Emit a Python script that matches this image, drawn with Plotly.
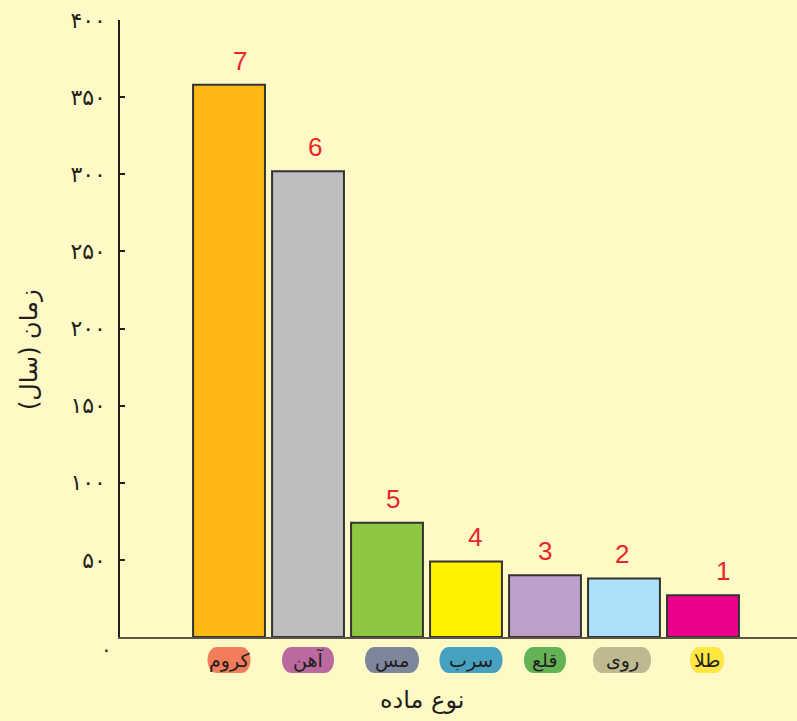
import plotly.graph_objects as go

# ---- data ----
categories = ["کروم", "آهن", "مس", "سرب", "قلع", "روی", "طلا"]
years = [358, 302, 74, 49, 40, 38, 27]
rank_labels = ["7", "6", "5", "4", "3", "2", "1"]
y_tickvals = [50, 100, 150, 200, 250, 300, 350, 400]
y_ticktext = ["۵۰", "۱۰۰", "۱۵۰", "۲۰۰", "۲۵۰", "۳۰۰", "۳۵۰", "۴۰۰"]
zero_label = "۰"
y_title = "زمان (سال)"
x_title = "نوع ماده"

# ---- styles ----
bar_colors = ["#FDB813", "#BCBEC0", "#8DC63F", "#FFF200", "#BC9FCB", "#ABDFFA", "#EC008C"]
pill_colors = ["#F37C5A", "#BA6A9E", "#7E869C", "#45A1BF", "#63B356", "#BEB98F", "#FFE640"]
pill_widths = [43, 52, 54, 63, 42, 58, 34]
pill_xshift = [0, 0, 5, 5, 0, -2, 4]
rank_xshift = [11, 7, 6, 9, 0, -2, 20]
bg = "#FFF9C6"
arabic_font = "DejaVu Sans"

x_idx = list(range(len(categories)))

fig = go.Figure()
fig.add_trace(go.Bar(
    x=x_idx, y=years, width=0.91,
    marker=dict(color=bar_colors, line=dict(color="#333333", width=2)),
    hoverinfo="skip",
))

annotations = []
# rank numbers above bars
for i, v, t, dx in zip(x_idx, years, rank_labels, rank_xshift):
    annotations.append(dict(x=i, y=v, xref="x", yref="y", text=t, showarrow=False,
                            yanchor="bottom", yshift=7, xshift=dx,
                            font=dict(family="Liberation Sans", size=26, color="#E8262D")))

shapes = []
# pill labels for categories
for i, (c, col, w, dx) in enumerate(zip(categories, pill_colors, pill_widths, pill_xshift)):
    k = 13.0
    a = w / 2 - 0.75 * k
    top, bot = -10, -36
    l, r = dx - a, dx + a
    path = (f"M {l},{top} L {r},{top} C {r + k},{top} {r + k},{bot} {r},{bot} "
            f"L {l},{bot} C {l - k},{bot} {l - k},{top} {l},{top} Z")
    shapes.append(dict(type="path", xref="x", yref="paper", xsizemode="pixel", ysizemode="pixel",
                       xanchor=i, yanchor=0, path=path, fillcolor=col,
                       line=dict(width=0), layer="above"))
    annotations.append(dict(x=i, y=0, xref="x", yref="paper", text=c, showarrow=False,
                            yanchor="middle", yshift=-23, xshift=dx,
                            font=dict(family=arabic_font, size=19, color="#231F20")))

# zero label below axis corner
annotations.append(dict(x=0, y=0, xref="paper", yref="y", text=zero_label, showarrow=False,
                        xanchor="right", yanchor="middle", xshift=-6, yshift=-12,
                        font=dict(family=arabic_font, size=20, color="#231F20")))
# axis titles
annotations.append(dict(x=0.446, y=0, xref="paper", yref="paper", text=x_title, showarrow=False,
                        xanchor="center", yanchor="middle", yshift=-63,
                        font=dict(family=arabic_font, size=24, color="#231F20")))
annotations.append(dict(x=0, y=0.465, xref="paper", yref="paper", text=y_title, showarrow=False,
                        textangle=-90, xanchor="center", yanchor="middle", xshift=-91,
                        font=dict(family=arabic_font, size=24, color="#231F20")))

fig.update_layout(
    width=797, height=721,
    margin=dict(l=120, r=0, t=20, b=84),
    paper_bgcolor=bg, plot_bgcolor=bg,
    showlegend=False,
    annotations=annotations,
    shapes=shapes,
    xaxis=dict(range=[-1.38, 7.19], showticklabels=False, ticks="", showgrid=False,
               zeroline=False, showline=True, linecolor="#5C5546", linewidth=2, fixedrange=True),
    yaxis=dict(range=[0, 400], tickvals=y_tickvals, ticktext=y_ticktext, ticks="inside",
               ticklen=5, tickcolor="#231F20", tickwidth=1.5, showgrid=False, zeroline=False,
               showline=True, linecolor="#231F20", linewidth=1.5,
               tickfont=dict(family=arabic_font, size=22, color="#231F20"), ticklabelstandoff=8,
               fixedrange=True),
)

fig.write_html("out.html", config={"displayModeBar": False},
               post_script="document.body.style.margin='0';document.body.style.background='%s';" % bg)
